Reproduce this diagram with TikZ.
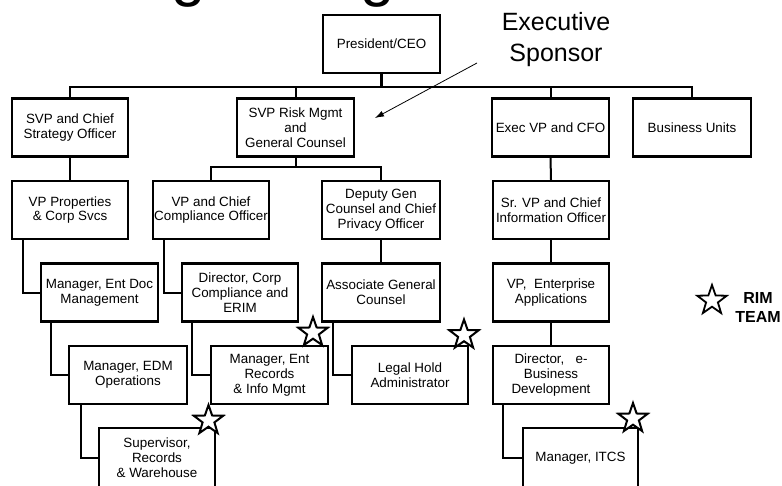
\documentclass[tikz,border=0pt]{standalone}
\usepackage{fontspec}
\setmainfont{Liberation Sans}
\usetikzlibrary{calc,shapes.geometric,arrows.meta}
\begin{document}
\begin{tikzpicture}[x=1pt,y=-1pt,
  box/.style={draw, line width=2.2pt, rectangle, minimum width=116pt, minimum height=58pt,
              inner xsep=0.5pt, inner ysep=1pt, align=center, font=\fontsize{13.4}{14.9}\selectfont},
  conn/.style={line width=2pt},
  rimstar/.style={star, star points=5, star point ratio=2.5, draw, line width=2pt, fill=white,
                  minimum size=31pt, inner sep=0pt},
  biglabel/.style={inner sep=0pt, align=center},
]
\useasboundingbox (0,0) rectangle (782,485);

% fragments of the cut-off title
\node[anchor=base, inner sep=0pt, font=\fontsize{62}{62}\selectfont] (g1) at (189,-5.1) {g};
\node[anchor=base, inner sep=0pt, font=\fontsize{62}{62}\selectfont] (g2) at (377.5,-5.1) {g};

% boxes
\node[box, minimum width=117pt] (ceo) at (381.5,44) {President/CEO};
\node[box] (svp1) at (70,127.5) {SVP and Chief\\Strategy Officer};
\node[box, minimum width=117pt] (svp2) at (295.5,127.5) {SVP Risk Mgmt\\and\\General Counsel};
\node[box, minimum width=117pt] (evp) at (550.5,127.5) {Exec VP and CFO};
\node[box, minimum width=118pt] (bu) at (692,127.5) {Business Units};

\node[box] (vpprop) at (70,210) {VP Properties\\\& Corp Svcs};
\node[box] (vpcomp) at (211,210) {VP and Chief\\Compliance Officer};
\node[box, minimum width=118pt] (deputy) at (381,210) {Deputy Gen\\Counsel and Chief\\Privacy Officer};
\node[box] (srvp) at (551,210) {Sr. VP and Chief\\Information Officer};

\node[box, minimum width=117pt] (mgrdoc) at (99.5,292.5) {Manager, Ent Doc\\Management};
\node[box] (dircomp) at (240,292.5) {Director, Corp\\Compliance and\\ERIM};
\node[box, minimum width=118pt] (assoc) at (381,292.5) {Associate General\\Counsel};
\node[box] (vpent) at (551,292.5) {VP,\ \ Enterprise\\Applications};

\node[box, minimum width=118pt] (mgredm) at (128,375) {Manager, EDM\\Operations};
\node[box, minimum width=117pt] (mgrrec) at (269.5,375) {Manager, Ent\\Records\\\& Info Mgmt};
\node[box] (legal) at (410,375) {Legal Hold\\Administrator};
\node[box] (direb) at (551,375) {Director,\ \ \ e-\\Business\\Development};

\node[box, minimum height=60pt] (superv) at (157,458) {Supervisor,\\Records\\\& Warehouse};
\node[box, minimum width=115pt, minimum height=60pt] (itcs) at (580.5,458) {Manager, ITCS};

% buses
\coordinate (bus1) at (0,87);
\coordinate (bus2) at (0,167);
\draw[line width=3pt] (ceo.south) -- (ceo.south |- bus1);
\draw[conn] (svp1.north) -- (svp1.north |- bus1) -- (bu.north |- bus1) -- (bu.north);
\draw[conn] (svp2.north) -- (svp2.north |- bus1);
\draw[conn] (evp.north) -- (evp.north |- bus1);

\draw[conn] (svp1.south) -- (vpprop.north);
\draw[conn] (svp2.south) -- (svp2.south |- bus2);
\draw[conn] (vpcomp.north) -- (vpcomp.north |- bus2) -- (deputy.north |- bus2) -- (deputy.north);
\draw[conn] (evp.south) -- (srvp.north);
\draw[conn] (srvp.south) -- (vpent.north);
\draw[conn] (vpent.south) -- (direb.north);
\draw[conn] (deputy.south) -- (assoc.north);

% elbow connectors
\draw[conn] ($(vpprop.south west)+(12,0)$) |- (mgrdoc.west);
\draw[conn] ($(vpcomp.south west)+(12,0)$) |- (dircomp.west);
\draw[conn] ($(mgrdoc.south west)+(11,0)$) |- (mgredm.west);
\draw[conn] ($(dircomp.south west)+(11,0)$) |- (mgrrec.west);
\draw[conn] ($(assoc.south west)+(12,0)$) |- (legal.west);
\draw[conn] ($(mgredm.south west)+(13,0)$) |- (superv.west);
\draw[conn] ($(direb.south west)+(11,0)$) |- (itcs.west);

% stars
\node[rimstar] (st1) at (313,332.5) {};
\node[rimstar] (st2) at (208.5,420.5) {};
\node[rimstar] (st3) at (464,335) {};
\node[rimstar] (st4) at (633,418.5) {};
\node[rimstar, minimum size=31pt, line width=1.8pt] (st5) at (712,300.5) {};
\node[biglabel, font=\bfseries\fontsize{16}{19}\selectfont] (rim) at (758,307) {RIM\\TEAM};

% executive sponsor
\node[biglabel, font=\fontsize{25}{31}\selectfont] (sponsor) at (556,40) {Executive\\Sponsor};
\coordinate (arrS) at (477,63);
\coordinate (arrE) at (375,118);
\draw[line width=0.8pt, -{Latex[length=9pt,width=6pt]}] (arrS) -- (arrE);
\end{tikzpicture}
\end{document}
